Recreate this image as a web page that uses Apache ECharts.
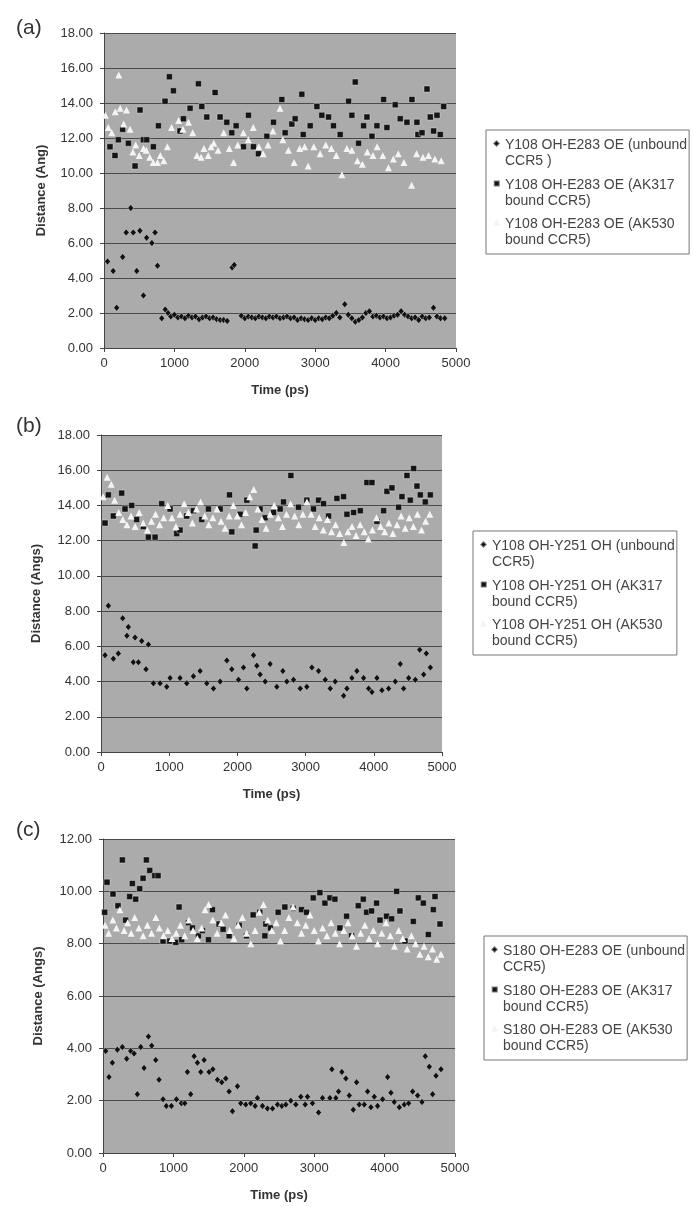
<!DOCTYPE html>
<html>
<head>
<meta charset="utf-8">
<script src="https://cdn.jsdelivr.net/npm/echarts@6/dist/echarts.min.js"></script>
<style>
  html, body { margin: 0; padding: 0; background: #fff; }
  #chart { width: 692px; height: 1207px; }
</style>
</head>
<body>
<div id="chart"></div>
<script>
// panel labels, axis titles, tick settings
const panelLabels = ['(a)', '(b)', '(c)']
const yTitles = ['Distance (Ang)', 'Distance (Angs)', 'Distance (Angs)']
const xTitle = 'Time (ps)'
const yMax = [18, 18, 12]

// legend names per panel
const namesA = ['Y108 OH-E283 OE (unbound CCR5 )', 'Y108 OH-E283 OE (AK317 bound CCR5)', 'Y108 OH-E283 OE (AK530 bound CCR5)']
const namesB = ['Y108 OH-Y251 OH (unbound CCR5)', 'Y108 OH-Y251 OH (AK317 bound CCR5)', 'Y108 OH-Y251 OH (AK530 bound CCR5)']
const namesC = ['S180 OH-E283 OE (unbound CCR5)', 'S180 OH-E283 OE (AK317 bound CCR5)', 'S180 OH-E283 OE (AK530 bound CCR5)']

// (a) Y108 OH-E283 OE  [time ps, distance]
const aUnbound = [[50,4.95],[130,4.4],[180,2.3],[265,5.2],[315,6.6],[380,8.0],[415,6.6],[465,4.4],[510,6.7],[560,3.0],[605,6.3],[680,6.0],[725,6.6],[760,4.7],[820,1.7],
  [870,2.2],[910,2.0],[950,1.8],[1000,1.9],[1050,1.75],[1100,1.8],[1150,1.7],[1200,1.85],[1250,1.75],[1300,1.8],[1350,1.65],[1400,1.75],[1450,1.8],[1500,1.7],[1550,1.75],[1600,1.65],[1650,1.6],[1700,1.6],[1750,1.55],[1820,4.6],[1850,4.75],
  [1950,1.85],[2000,1.7],[2050,1.8],[2100,1.75],[2150,1.7],[2200,1.8],[2250,1.75],[2300,1.7],[2350,1.8],[2400,1.75],[2450,1.8],[2500,1.7],[2550,1.75],[2600,1.8],[2650,1.7],[2700,1.75],[2750,1.6],[2800,1.7],[2850,1.65],[2900,1.6],[2950,1.7],[3000,1.6],[3050,1.7],[3100,1.65],[3150,1.75],[3200,1.7],[3250,1.85],[3300,2.0],[3350,1.75],[3420,2.5],[3470,1.9],
  [3520,1.7],[3570,1.5],[3620,1.6],[3670,1.75],[3720,2.0],[3770,2.1],[3820,1.8],[3870,1.85],[3920,1.75],[3970,1.8],[4020,1.7],[4070,1.75],[4120,1.85],[4170,1.9],[4220,2.1],[4270,1.9],[4320,1.8],[4370,1.7],[4420,1.75],[4470,1.6],[4520,1.8],[4570,1.7],[4620,1.75],[4680,2.3],[4730,1.8],[4780,1.7],[4840,1.7]]
const aAK317 = [[85,11.5],[156,11.0],[204,11.9],[265,12.5],[346,11.7],[441,10.4],[512,13.6],[559,11.9],[607,11.9],[701,11.5],[773,12.7],[867,14.1],[929,15.5],[986,14.7],[1080,12.4],[1128,13.1],[1223,13.7],[1341,15.1],[1389,13.8],[1460,13.2],[1578,14.6],[1649,13.2],[1744,12.9],[1815,12.3],[1877,12.7],[1981,11.5],
  [2052,13.3],[2123,11.5],[2194,11.1],[2313,12.1],[2408,12.9],[2526,14.2],[2573,12.3],[2668,12.8],[2715,13.1],[2810,14.5],[2830,12.2],[2929,12.7],[3024,13.8],[3094,13.3],[3190,13.2],[3260,12.7],[3355,12.2],[3474,14.1],[3521,13.3],[3569,15.2],[3616,11.7],[3687,12.7],[3735,13.2],[3806,12.1],[3877,12.7],[3972,14.2],[4019,12.6],
  [4137,13.9],[4208,13.1],[4303,12.9],[4374,14.2],[4445,12.9],[4460,12.2],[4517,12.3],[4588,14.8],[4635,13.2],[4682,12.4],[4730,13.3],[4777,12.2],[4825,13.8]]
const aAK530 = [[20,13.3],[60,12.6],[110,12.3],[160,13.5],[210,15.6],[230,13.7],[280,12.8],[320,13.6],[370,12.5],[410,11.2],[450,11.6],[500,11.0],[560,11.4],[600,11.3],[650,10.9],[700,10.6],[760,10.6],[800,11.0],[850,10.7],[900,11.5],[960,12.6],[1060,13.0],[1120,12.5],[1200,12.9],[1260,12.3],[1320,11.0],[1380,10.9],[1420,11.4],[1480,11.0],[1520,11.5],[1560,11.7],[1620,11.3],[1700,12.3],[1780,11.4],[1840,10.6],[1900,11.6],
  [1980,12.3],[2050,11.9],[2120,12.6],[2200,11.5],[2260,11.1],[2330,11.6],[2400,12.4],[2500,13.7],[2540,11.9],[2620,11.3],[2700,10.6],[2780,11.4],[2850,11.5],[2900,10.4],[2980,11.5],[3070,11.1],[3150,11.6],[3230,11.4],[3300,11.0],[3380,9.9],[3450,11.4],[3520,11.3],[3600,10.7],[3670,10.5],[3740,11.2],[3820,11.0],[3880,11.5],[3960,11.0],[4040,10.3],[4110,10.8],[4180,11.1],[4260,10.6],[4370,9.3],[4440,11.1],[4530,10.9],[4610,11.0],[4700,10.8],[4790,10.7]]

// (b) Y108 OH-Y251 OH
const bUnbound = [[59,5.5],[108,8.3],[181,5.3],[254,5.6],[318,7.6],[380,6.6],[401,7.1],[474,5.1],[499,6.5],[548,5.1],[597,6.3],[660,4.7],[695,6.1],[768,3.9],[866,3.9],[964,3.7],[1013,4.2],[1159,4.2],[1257,3.9],[1355,4.3],[1453,4.6],[1551,3.9],[1649,3.6],[1747,4.0],[1845,5.2],[1918,4.7],[2016,4.1],[2089,4.8],[2138,3.6],[2236,5.5],[2285,4.9],[2333,4.4],[2407,4.0],[2480,5.0],
  [2578,3.7],[2666,4.6],[2725,4.0],[2823,4.1],[2921,3.6],[3018,3.7],[3092,4.8],[3190,4.6],[3288,4.1],[3361,3.6],[3434,4.0],[3557,3.2],[3606,3.6],[3679,4.2],[3752,4.6],[3850,4.2],[3924,3.6],[3973,3.4],[4046,4.2],[4119,3.5],[4217,3.6],[4315,4.0],[4388,5.0],[4437,3.6],[4511,4.2],[4609,4.1],[4673,5.8],[4731,4.4],[4770,5.6],[4829,4.8]]
const bAK317 = [[59,13.0],[108,14.6],[181,13.4],[303,14.7],[352,13.8],[450,14.0],[523,13.2],[621,12.8],[695,12.2],[793,12.2],[890,14.1],[1013,13.8],[1110,12.4],[1159,12.6],[1257,13.4],[1355,13.7],[1477,13.2],[1575,13.8],[1747,13.8],[1884,14.6],[1918,12.5],[2040,13.5],[2138,14.3],[2260,11.7],[2275,12.6],[2333,13.8],[2407,13.3],[2529,13.6],[2627,13.8],[2676,14.2],[2784,15.7],[2896,13.9],
  [3018,14.3],[3116,13.8],[3190,14.3],[3263,14.1],[3337,13.4],[3459,14.4],[3557,14.5],[3606,13.5],[3704,13.6],[3802,13.7],[3899,15.3],[3973,15.3],[4046,13.1],[4144,13.7],[4193,14.8],[4266,15.0],[4364,13.9],[4413,14.5],[4486,15.7],[4535,14.3],[4584,16.1],[4633,15.1],[4682,14.6],[4755,14.2],[4829,14.6]]
const bAK530 = [[30,14.5],[90,15.6],[150,15.2],[200,14.3],[260,13.6],[320,13.2],[380,12.9],[440,13.4],[500,12.8],[560,13.6],[620,13.0],[680,12.6],[740,13.1],[800,13.5],[860,12.9],[920,13.3],[980,14.0],[1040,13.3],[1100,12.8],[1160,13.5],[1220,14.1],[1280,13.6],[1340,13.0],[1400,13.8],[1460,14.2],[1520,13.4],[1580,12.9],[1640,13.3],[1700,13.8],[1760,13.1],[1820,12.7],[1880,13.4],[1940,14.0],[2000,13.4],[2060,12.9],[2120,13.6],[2180,14.5],[2240,14.9],[2300,13.8],[2360,13.2],[2420,12.7],
  [2480,13.5],[2540,14.0],[2600,13.3],[2660,12.8],[2720,13.5],[2780,14.1],[2840,13.4],[2900,12.9],[2960,13.5],[3020,14.2],[3080,13.5],[3140,12.8],[3200,13.3],[3260,12.6],[3320,13.2],[3380,12.5],[3440,12.9],[3500,12.4],[3560,11.9],[3620,12.5],[3680,12.8],[3740,12.3],[3800,12.9],[3860,12.5],[3920,12.1],[3980,12.6],[4040,13.3],[4100,12.8],[4160,12.5],[4220,13.0],[4280,12.4],[4340,12.9],[4400,13.4],[4460,12.7],[4520,13.3],[4580,12.8],[4640,13.5],[4700,12.6],[4760,13.1],[4820,13.5]]

// (c) S180 OH-E283 OE
const cUnbound = [[38,3.9],[85,2.9],[133,3.45],[204,3.95],[275,4.05],[336,3.6],[393,3.9],[441,3.8],[488,2.25],[536,4.05],[583,3.25],[645,4.45],[692,4.1],[749,3.55],[796,2.8],[853,2.05],[900,1.8],[972,1.8],[1043,2.05],[1114,1.9],[1161,1.9],[1199,3.1],[1246,2.25],[1294,3.7],[1341,3.45],[1389,3.1],[1436,3.55],[1507,3.1],[1560,3.2],[1626,2.8],[1687,2.7],[1744,2.85],[1791,2.35],[1839,1.6],[1910,2.55],[1957,1.9],
  [2028,1.85],[2099,1.9],[2161,1.8],[2194,2.1],[2265,1.8],[2336,1.7],[2408,1.7],[2479,1.85],[2540,1.8],[2597,1.85],[2668,2.0],[2739,1.85],[2810,2.15],[2872,1.85],[2905,2.15],[2976,1.9],[3062,1.55],[3118,2.1],[3223,2.1],[3251,3.2],[3308,2.1],[3346,2.35],[3393,3.1],[3450,2.85],[3498,2.2],[3555,1.65],[3602,2.7],[3640,1.85],[3711,1.85],[3758,2.35],[3806,1.75],[3853,2.15],[3900,1.8],
  [3972,2.05],[4043,2.9],[4090,2.3],[4137,1.95],[4209,1.75],[4280,1.85],[4341,1.9],[4398,2.35],[4469,2.2],[4531,1.95],[4578,3.7],[4635,3.3],[4682,2.25],[4730,2.95],[4801,3.2]]
const cAK317 = [[24,9.2],[57,10.35],[142,9.9],[213,9.45],[275,11.2],[322,8.9],[379,9.8],[417,10.3],[464,9.7],[521,10.1],[569,10.5],[616,11.2],[664,10.8],[735,10.6],[782,10.6],[853,8.1],[948,8.1],[1033,8.05],[1081,9.4],[1118,8.15],[1213,8.8],[1270,8.6],[1355,8.3],[1412,8.5],[1498,8.15],[1555,9.3],[1649,8.75],[1706,8.55],[1791,8.3],[1934,8.7],[2038,8.3],[2133,9.1],[2227,9.2],[2299,8.3],[2313,8.75],[2379,8.6],
  [2488,9.2],[2583,9.4],[2701,9.35],[2820,9.3],[2891,9.2],[2986,9.75],[3081,9.95],[3152,9.55],[3223,9.75],[3294,9.7],[3365,8.6],[3460,9.05],[3531,8.3],[3626,9.45],[3697,9.7],[3744,9.2],[3815,9.25],[3886,9.55],[3934,8.9],[4028,9.05],[4100,8.95],[4171,10.0],[4218,9.25],[4289,8.1],[4408,8.85],[4479,9.75],[4550,9.55],[4621,8.35],[4692,9.3],[4716,9.8],[4787,8.75]]
const cAK530 = [[30,8.7],[80,8.4],[140,8.9],[190,8.6],[240,9.3],[300,8.5],[350,8.8],[400,8.4],[450,9.0],[510,8.6],[570,8.3],[630,8.7],[690,8.4],[750,9.0],[800,8.6],[860,8.3],[920,8.5],[980,8.2],[1040,8.4],[1100,8.7],[1160,8.3],[1220,8.9],[1280,8.5],[1340,8.2],[1400,8.6],[1450,9.3],[1500,9.5],[1560,8.9],[1620,8.4],[1680,8.8],[1740,9.1],[1800,8.5],[1860,8.2],[1920,8.7],[1980,9.0],[2040,8.4],[2100,8.0],[2160,8.5],[2220,9.2],[2280,9.5],[2340,8.9],
  [2400,8.5],[2460,8.8],[2520,8.1],[2580,8.5],[2640,9.0],[2700,9.4],[2760,8.8],[2820,8.4],[2880,8.7],[2940,9.1],[3000,8.5],[3060,8.1],[3120,8.6],[3180,8.3],[3240,8.8],[3300,8.4],[3360,8.0],[3420,8.5],[3480,8.8],[3540,8.3],[3600,7.9],[3660,8.4],[3720,8.7],[3780,8.2],[3840,8.5],[3900,8.0],[3960,8.4],[4020,8.8],[4080,8.3],[4140,7.9],[4200,8.5],[4260,8.2],[4320,7.8],[4380,8.3],[4440,8.0],[4500,7.6],[4560,7.9],[4620,7.5],[4680,7.8],[4740,7.4],[4800,7.6]]

const FONT = 'Liberation Sans, Arial, sans-serif'

// plot rectangles and legend boxes of the three panels
const grids = [
  { left: 104, top: 33, width: 352, height: 315, backgroundColor: '#ababab', show: true, borderWidth: 0 },
  { left: 101, top: 435, width: 341, height: 317, backgroundColor: '#ababab', show: true, borderWidth: 0 },
  { left: 103, top: 839, width: 352, height: 314, backgroundColor: '#ababab', show: true, borderWidth: 0 }
]
const legendPos = [{ left: 486, top: 130 }, { left: 473, top: 531 }, { left: 484, top: 936 }]
const yNameGap = [56, 58, 58]

// legend icons: marker sits beside the first text line
const iconDiamond = 'path://M3.5,3 L7,6.5 L3.5,10 L0,6.5 Z M0,0 L0.01,0 Z M0,32 L0.01,32 Z'
const iconSquare = 'path://M0.5,3.5 L6.5,3.5 L6.5,9.5 L0.5,9.5 Z M0,0 L0.01,0 Z M0,32 L0.01,32 Z'
const iconTri = 'path://M3.5,3 L7,9.5 L0,9.5 Z M0,0 L0.01,0 Z M0,32 L0.01,32 Z'

// split legend text after the 4th word, as in the original
const wrap = name => {
  const w = name.split(' ')
  return w.slice(0, 4).join(' ') + '\n' + w.slice(4).join(' ')
}

const chart = echarts.init(document.getElementById('chart'), null, { renderer: 'canvas' })

const xAxes = grids.map((g, i) => ({
  type: 'value', gridIndex: i, min: 0, max: 5000, interval: 1000,
  name: xTitle, nameLocation: 'middle', nameGap: 36,
  nameTextStyle: { fontFamily: FONT, fontSize: 13, fontWeight: 'bold', color: '#333' },
  axisLine: { show: true, lineStyle: { color: '#444' } },
  axisTick: { show: true, length: 4, lineStyle: { color: '#444' } },
  axisLabel: { fontFamily: FONT, fontSize: 13, color: '#333', margin: 9, formatter: v => String(v) },
  splitLine: { show: false }
}))

const yAxes = grids.map((g, i) => ({
  type: 'value', gridIndex: i, min: 0, max: yMax[i], interval: 2,
  name: yTitles[i], nameLocation: 'middle', nameGap: yNameGap[i],
  nameTextStyle: { fontFamily: FONT, fontSize: 13, fontWeight: 'bold', color: '#333' },
  axisLine: { show: true, lineStyle: { color: '#444' } },
  axisTick: { show: true, length: 4, lineStyle: { color: '#444' } },
  axisLabel: { fontFamily: FONT, fontSize: 13, color: '#333', margin: 11, formatter: v => v.toFixed(2) },
  splitLine: { show: true, lineStyle: { color: '#4a4a4a', width: 1 } }
}))

const panelData = [
  [aUnbound, aAK317, aAK530],
  [bUnbound, bAK317, bAK530],
  [cUnbound, cAK317, cAK530]
]
const panelNames = [namesA, namesB, namesC]

const series = []
panelData.forEach((sets, i) => {
  series.push({
    name: panelNames[i][0], type: 'scatter', xAxisIndex: i, yAxisIndex: i,
    symbol: 'diamond', symbolSize: [6, 7], data: sets[0],
    itemStyle: { color: '#111', borderColor: 'rgba(255,255,255,0.45)', borderWidth: 0.8, opacity: 1 }
  })
  series.push({
    name: panelNames[i][1], type: 'scatter', xAxisIndex: i, yAxisIndex: i,
    symbol: 'rect', symbolSize: 6, data: sets[1],
    itemStyle: { color: '#141414', borderColor: 'rgba(255,255,255,0.45)', borderWidth: 0.8, opacity: 1 }
  })
  series.push({
    name: panelNames[i][2], type: 'scatter', xAxisIndex: i, yAxisIndex: i,
    symbol: 'triangle', symbolSize: 7, data: sets[2],
    itemStyle: { color: '#f4f4f4', opacity: 1 }
  })
})

const legends = panelNames.map((names, i) => ({
  data: [
    { name: names[0], icon: iconDiamond },
    { name: names[1], icon: iconSquare },
    { name: names[2], icon: iconTri }
  ],
  left: legendPos[i].left, top: legendPos[i].top,
  orient: 'vertical', itemGap: 6, itemWidth: 7, itemHeight: 32,
  padding: [6, 2, 6, 6], selectedMode: false,
  borderColor: '#777', borderWidth: 1,
  formatter: wrap,
  textStyle: { fontFamily: FONT, fontSize: 14, lineHeight: 16, color: '#444' }
}))

const titles = panelLabels.map((t, i) => ({
  text: t, left: 11, top: [13, 411, 815][i],
  textStyle: { fontFamily: FONT, fontSize: 21, fontWeight: 'normal', color: '#333' }
}))

chart.setOption({
  backgroundColor: '#ffffff',
  animation: false,
  title: titles,
  grid: grids,
  xAxis: xAxes,
  yAxis: yAxes,
  legend: legends,
  series
})
</script>
</body>
</html>
